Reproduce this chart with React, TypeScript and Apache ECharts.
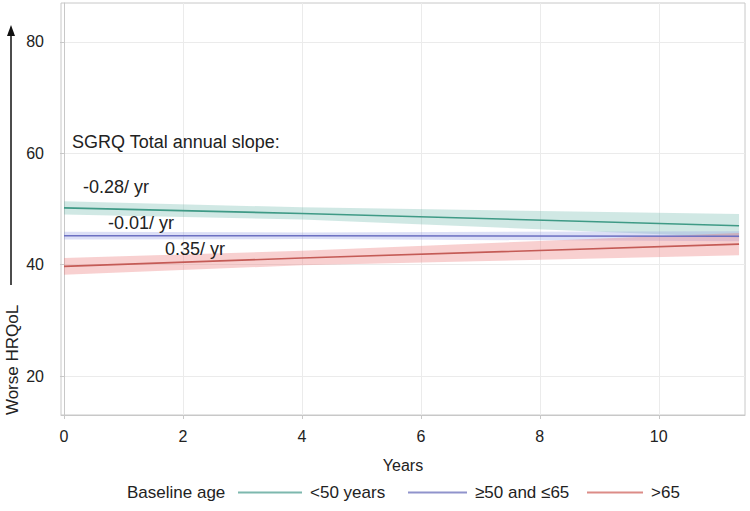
import React, { useEffect, useRef } from "react";
import * as echarts from "echarts";

const years = [0, 4, 11.35];
const groupNames = ["<50 years", "≥50 and ≤65", ">65"];
const meanLt50 = [50.2, 49.2, 47.0];
const lowerLt50 = [49.0, 48.1, 44.9];
const upperLt50 = [51.4, 50.3, 49.1];
const mean50to65 = [45.2, 45.2, 45.1];
const lower50to65 = [44.5, 44.6, 44.2];
const upper50to65 = [45.9, 45.8, 46.0];
const meanGt65 = [39.7, 41.2, 43.7];
const lowerGt65 = [38.2, 39.9, 41.7];
const upperGt65 = [41.2, 42.5, 45.7];
const slopeLabels = ["-0.28/ yr", "-0.01/ yr", "0.35/ yr"];
const xTicks = [0, 2, 4, 6, 8, 10];
const yTicks = [20, 40, 60, 80];

const lineColors = ["#3f9a86", "#6c70c2", "#c45b56"];
const legendColors = ["#7db8ae", "#9093cc", "#dc8c87"];
const bandColors = [
  "rgba(110,185,172,0.32)",
  "rgba(140,150,225,0.30)",
  "rgba(235,120,120,0.35)",
];

const FONT = "'Liberation Sans', Arial, sans-serif";

export default function App() {
  const ref = useRef<HTMLDivElement>(null);
  useEffect(() => {
    if (!ref.current) return;
    const chart = echarts.init(ref.current, null, { renderer: "svg" });
    const means = [meanLt50, mean50to65, meanGt65];
    const lowers = [lowerLt50, lower50to65, lowerGt65];
    const uppers = [upperLt50, upper50to65, upperGt65];
    const series: any[] = [];
    groupNames.forEach((name, i) => {
      series.push({
        name: "band-" + i,
        type: "custom",
        silent: true,
        z: 1,
        data: years.map((x, k) => [x, lowers[i][k], uppers[i][k]]),
        renderItem: (params: any, api: any) => {
          if (params.dataIndex !== 0) return null;
          const top = years.map((x, k) => api.coord([x, uppers[i][k]]));
          const bottom = years
            .map((x, k) => api.coord([x, lowers[i][k]]))
            .reverse();
          return {
            type: "polygon",
            shape: { points: top.concat(bottom) },
            style: { fill: bandColors[i], stroke: "none" },
          };
        },
        encode: { x: 0, y: [1, 2] },
      });
    });
    groupNames.forEach((name, i) => {
      series.push({
        name,
        type: "line",
        symbol: "none",
        itemStyle: { color: legendColors[i] },
        lineStyle: { color: lineColors[i], width: 1.6 },
        data: years.map((x, k) => [x, means[i][k]]),
        z: 3,
      });
    });

    const legendLefts = [238, 408, 587];
    const legendWidths = [64, 59, 56];
    const legends = groupNames.map((name, i) => ({
      data: [name],
      left: legendLefts[i],
      top: 484,
      padding: 0,
      icon: "rect",
      itemWidth: legendWidths[i],
      itemHeight: 2,
      textStyle: {
        fontFamily: FONT,
        fontSize: 17,
        color: "#222",
        padding: [0, 0, 0, 3],
      },
      selectedMode: false,
    }));

    const slopeY = [187, 223, 249];
    const slopeX = [83, 108, 165];

    chart.setOption({
      animation: false,
      backgroundColor: "#ffffff",
      grid: {
        left: 61,
        right: 5,
        top: 3,
        bottom: 96,
        show: true,
        borderColor: "#c8c8c8",
        borderWidth: 1,
        containLabel: false,
      },
      xAxis: {
        type: "value",
        min: -0.05,
        max: 11.45,
        name: "Years",
        nameLocation: "middle",
        nameGap: 42,
        nameTextStyle: { fontFamily: FONT, fontSize: 16, color: "#222" },
        axisLine: { show: true, lineStyle: { color: "#c8c8c8" } },
        axisTick: {
          show: true,
          length: 4,
          customValues: xTicks,
          lineStyle: { color: "#c8c8c8" },
        },
        axisLabel: {
          customValues: xTicks,
          margin: 13,
          fontFamily: FONT,
          fontSize: 16,
          color: "#222",
        },
        splitLine: { show: true, lineStyle: { color: "#ebebeb" } },
      },
      yAxis: {
        type: "value",
        min: 13,
        max: 87,
        axisLine: { show: true, lineStyle: { color: "#c8c8c8" } },
        axisTick: {
          show: true,
          length: 4,
          customValues: yTicks,
          lineStyle: { color: "#c8c8c8" },
        },
        axisLabel: {
          customValues: yTicks,
          margin: 17,
          fontFamily: FONT,
          fontSize: 16,
          color: "#222",
        },
        splitLine: { show: true, lineStyle: { color: "#ebebeb" } },
      },
      legend: legends,
      series,
      graphic: [
        {
          type: "text",
          left: 127,
          top: 484,
          style: {
            text: "Baseline age",
            font: `17px ${FONT}`,
            fill: "#222",
          },
        },
        {
          type: "text",
          x: 72,
          y: 142,
          style: {
            text: "SGRQ Total annual slope:",
            font: `18px ${FONT}`,
            fill: "#222",
            verticalAlign: "middle",
          },
          z: 10,
        },
        ...slopeLabels.map((t, i) => ({
          type: "text",
          x: slopeX[i],
          y: slopeY[i],
          style: {
            text: t,
            font: `18px ${FONT}`,
            fill: "#222",
            verticalAlign: "middle",
          },
          z: 10,
        })),
        {
          type: "text",
          x: 12,
          y: 360,
          rotation: Math.PI / 2,
          style: {
            text: "Worse HRQoL",
            font: `17px ${FONT}`,
            fill: "#222",
            align: "center",
            verticalAlign: "middle",
          },
        },
        {
          type: "line",
          shape: { x1: 11, y1: 285, x2: 11, y2: 34 },
          style: { stroke: "#111", lineWidth: 1.5 },
        },
        {
          type: "polygon",
          shape: { points: [[11, 25], [7, 36], [15, 36]] },
          style: { fill: "#111" },
        },
      ],
    });
    return () => chart.dispose();
  }, []);
  return (
    <div
      ref={ref}
      style={{ position: "fixed", left: 0, top: 0, width: 750, height: 511 }}
    />
  );
}
